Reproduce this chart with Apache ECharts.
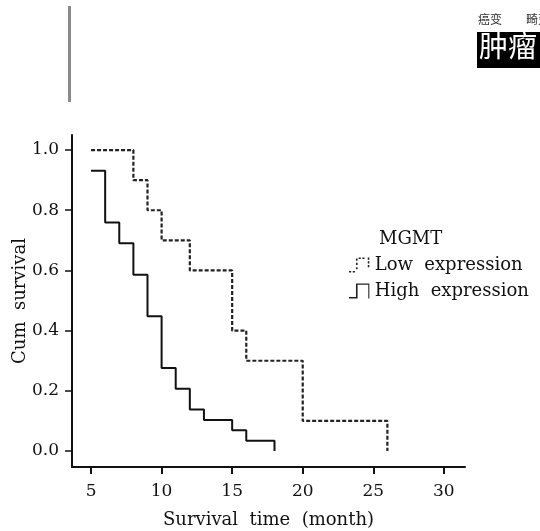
<!DOCTYPE html>
<html>
<head>
<meta charset="utf-8">
<script src="https://cdn.jsdelivr.net/npm/echarts@6/dist/echarts.min.js"></script>
<style>html,body{margin:0;padding:0;background:#fff}#c{width:540px;height:531px}</style>
</head>
<body>
<div id="c"></div>
<script>
const xTicks = [5, 10, 15, 20, 25, 30];
const yTicks = [0, 0.2, 0.4, 0.6, 0.8, 1.0];
const lowTime = [5, 8, 9, 10, 12, 15, 16, 20, 26];
const lowSurv = [1.0, 0.9, 0.8, 0.7, 0.6, 0.4, 0.3, 0.1, 0.0];
const highTime = [5, 6, 7, 8, 9, 10, 11, 12, 13, 15, 16, 18];
const highSurv = [0.931, 0.759, 0.69, 0.586, 0.448, 0.276, 0.207, 0.138, 0.103, 0.069, 0.034, 0.0];
const legendTitle = 'MGMT';
const seriesNames = ['Low  expression', 'High  expression'];

const serif = '"DejaVu Serif", "Liberation Serif", serif';
const chart = echarts.init(document.getElementById('c'));
const lowIcon = 'path://M0,12.5H2V14H0Z M3.5,12.5H5.5V14H3.5Z M6.5,9H8V11H6.5Z M6.5,5H8V7H6.5Z M6.5,1H8V3H6.5Z M9,0H11V1.5H9Z M12.5,0H14.5V1.5H12.5Z M17.5,0H19V2H17.5Z M17.5,3.5H19V5.5H17.5Z M17.5,7H19V9H17.5Z';
const highIcon = 'path://M0,12.5H8V14H0Z M6.5,0H8V14H6.5Z M6.5,0H19V1.2H6.5Z M18,0H19V14H18Z';
chart.setOption({
  animation: false,
  backgroundColor: '#fff',
  grid: { left: 72, top: 135, right: 75, bottom: 64, containLabel: false, outerBoundsMode: 'none' },
  title: {
    text: legendTitle, left: 374, top: 225,
    textStyle: { fontFamily: serif, fontSize: 18, fontWeight: 'normal', color: '#111' }
  },
  legend: {
    orient: 'vertical', left: 344, top: 251, itemGap: 8,
    itemWidth: 21, itemHeight: 15,
    textStyle: { fontFamily: serif, fontSize: 18, color: '#111', padding: [0, 0, 0, 0] },
    data: [
      { name: seriesNames[0], icon: lowIcon, itemStyle: { color: '#222' } },
      { name: seriesNames[1], icon: highIcon, itemStyle: { color: '#222' } }
    ]
  },
  xAxis: {
    type: 'value', min: 3.65, max: 31.5,
    name: 'Survival  time  (month)', nameLocation: 'middle', nameGap: 44,
    nameTextStyle: { fontFamily: serif, fontSize: 18, color: '#111' },
    axisLine: { onZero: false, lineStyle: { color: '#111', width: 2 } },
    axisTick: { show: true, length: 7, lineStyle: { color: '#111', width: 2 }, customValues: xTicks },
    axisLabel: { fontFamily: serif, fontSize: 17, color: '#111', margin: 16, customValues: xTicks },
    splitLine: { show: false }
  },
  yAxis: {
    type: 'value', min: -0.053, max: 1.05,
    name: 'Cum  survival', nameLocation: 'middle', nameGap: 43, nameRotate: 90,
    nameMoveOverlap: false,
    nameTextStyle: { fontFamily: serif, fontSize: 18, color: '#111' },
    axisLine: { show: true, onZero: false, lineStyle: { color: '#111', width: 2 } },
    axisTick: { show: true, length: 7, lineStyle: { color: '#111', width: 1.5 }, customValues: yTicks },
    axisLabel: { fontFamily: serif, fontSize: 17, color: '#111', margin: 13,
      formatter: v => v.toFixed(1), customValues: yTicks },
    splitLine: { show: false }
  },
  graphic: [
    { type: 'rect', shape: { x: 68, y: 6, width: 3, height: 96 }, style: { fill: '#8a8a8a' } },
    { type: 'text', left: 478, top: 13, style: { text: '癌变　　畸变', fontSize: 12, fontFamily: '"Noto Sans CJK SC"', fill: '#333' } },
    { type: 'rect', shape: { x: 477, y: 32, width: 70, height: 36 }, style: { fill: '#000' } },
    { type: 'text', left: 479, top: 31, style: { text: '肿瘤', fontSize: 29, fontFamily: '"Noto Sans CJK SC"', fill: '#fff' } }
  ],
  series: [
    {
      name: seriesNames[0], type: 'line', step: 'end', symbol: 'none',
      data: lowTime.map((t, i) => [t, lowSurv[i]]),
      lineStyle: { color: '#222', width: 2.2, type: [4, 2] }
    },
    {
      name: seriesNames[1], type: 'line', step: 'end', symbol: 'none',
      data: highTime.map((t, i) => [t, highSurv[i]]),
      lineStyle: { color: '#111', width: 2 }
    }
  ]
});
</script>
</body>
</html>
